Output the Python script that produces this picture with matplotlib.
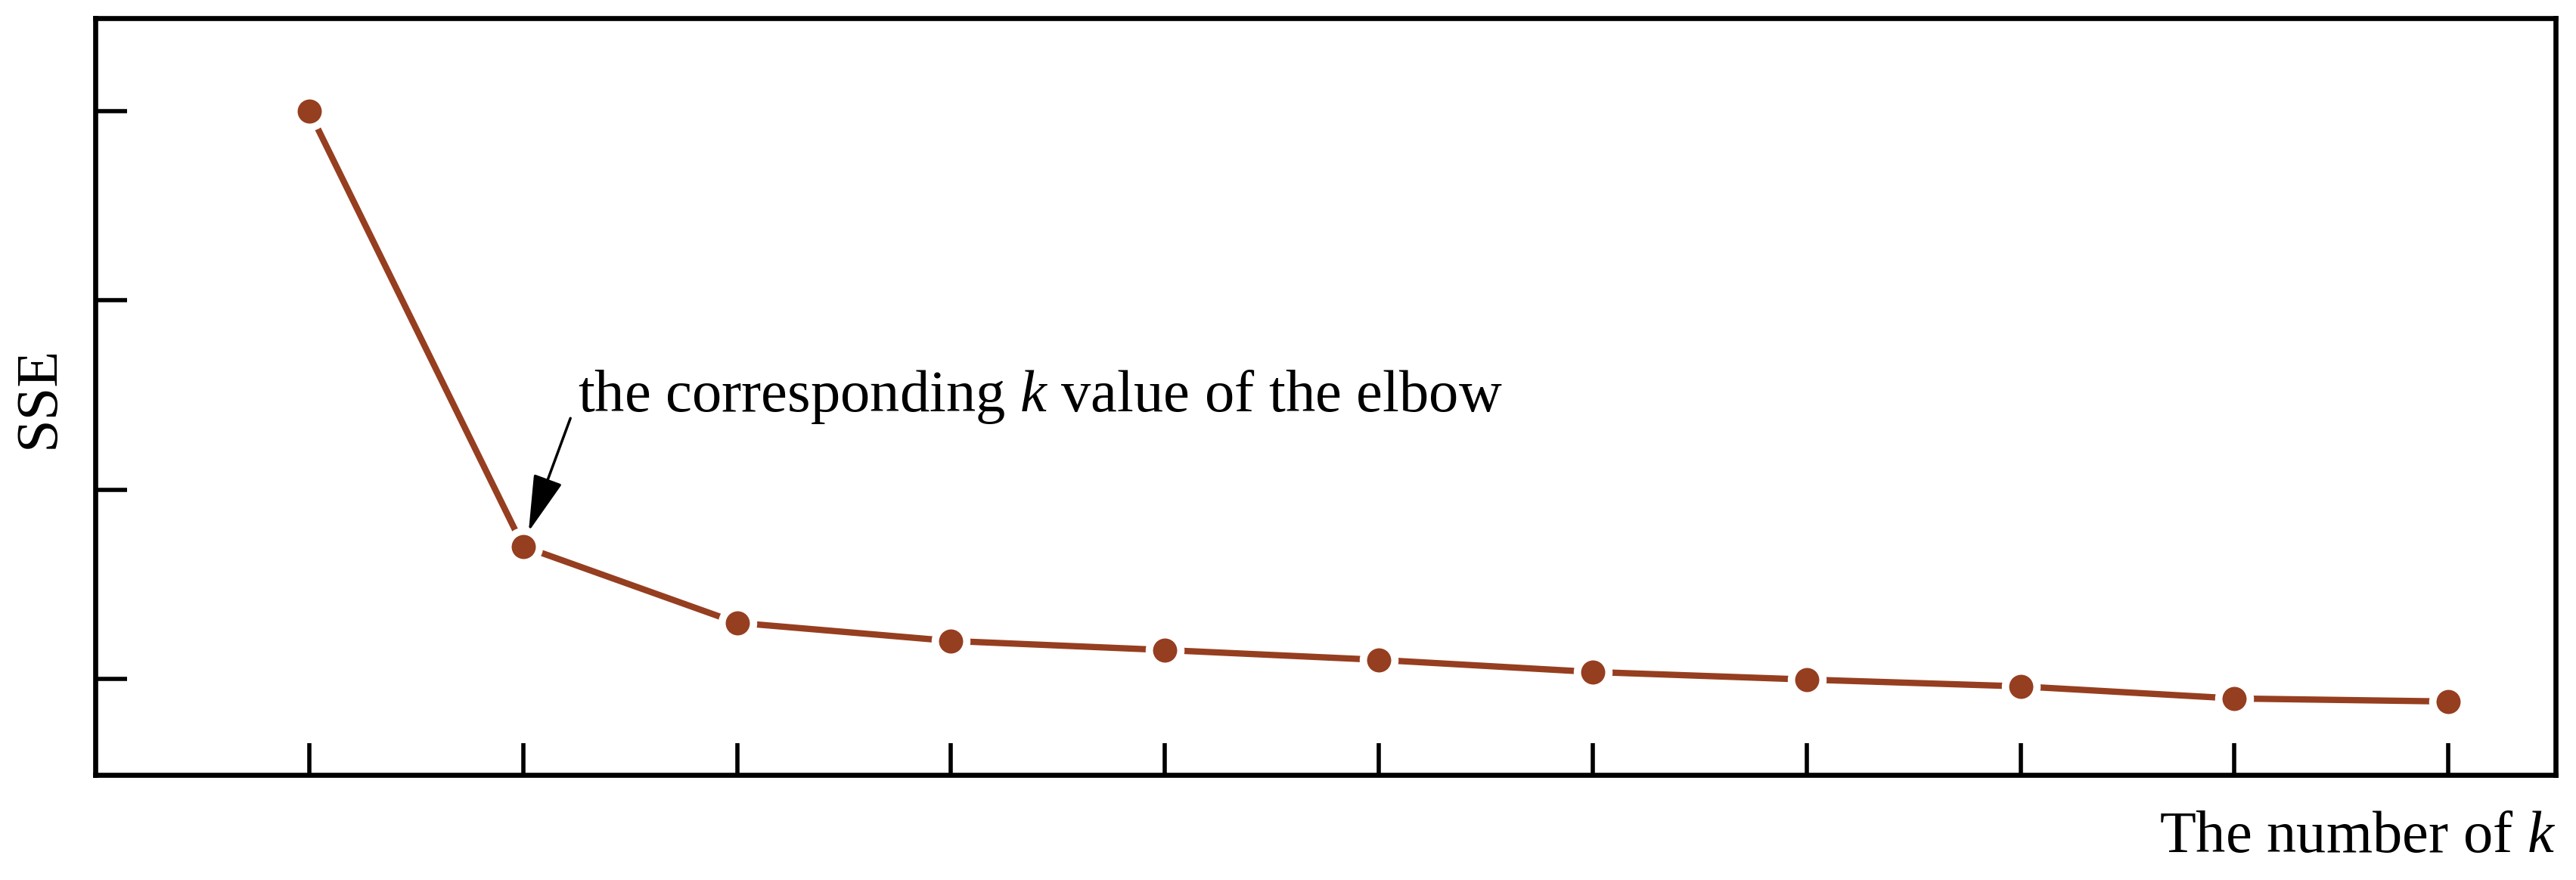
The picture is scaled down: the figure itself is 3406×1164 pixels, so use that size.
import matplotlib
matplotlib.use("Agg")
import matplotlib.pyplot as plt

# elbow curve values (y axis has no labels)
k_values = [1, 2, 3, 4, 5, 6, 7, 8, 9, 10, 11]
sse = [4.0, 1.70, 1.296, 1.20, 1.152, 1.10, 1.036, 0.996, 0.96, 0.896, 0.88]
y_ticks = [1, 2, 3, 4]
elbow_idx = 1

plt.rcParams["font.family"] = ["Liberation Serif", "DejaVu Serif"]
plt.rcParams["mathtext.fontset"] = "custom"
plt.rcParams["mathtext.rm"] = "Liberation Serif"
plt.rcParams["mathtext.it"] = "Liberation Serif:italic"

color = "#963e20"

fig = plt.figure(figsize=(34.06, 11.64), dpi=100)
ax = fig.add_axes([0.037, 0.119, 0.955, 0.860])

ax.plot(k_values, sse, color=color, lw=6, marker="o", markersize=30,
        markerfacecolor=color, markeredgecolor="white", markeredgewidth=7)

ax.set_xlim(0.0, 11.5)
ax.set_ylim(0.49, 4.49)
ax.set_xticks(k_values)
ax.set_yticks(y_ticks)
ax.set_xticklabels([])
ax.set_yticklabels([])
ax.tick_params(direction="in", length=30, width=4)
for sp in ax.spines.values():
    sp.set_linewidth(4.8)

ax.set_ylabel("SSE", fontsize=56.5, labelpad=24)
ax.set_xlabel("The number of $k$", fontsize=56.5, loc="right", labelpad=30)

x0, y0 = k_values[elbow_idx], sse[elbow_idx]
ax.annotate("the corresponding $k$ value of the elbow", xy=(x0, y0),
            xytext=(52, 129), textcoords="offset points",
            fontsize=56.5, ha="left", va="baseline")
ax.annotate("", xy=(x0, y0), xytext=(45, 122), textcoords="offset points",
            arrowprops=dict(arrowstyle="-|>,head_length=0.47,head_width=0.125",
                            mutation_scale=100, color="black", lw=2.5,
                            shrinkA=0, shrinkB=15))

fig.savefig("out.png", dpi=100)
